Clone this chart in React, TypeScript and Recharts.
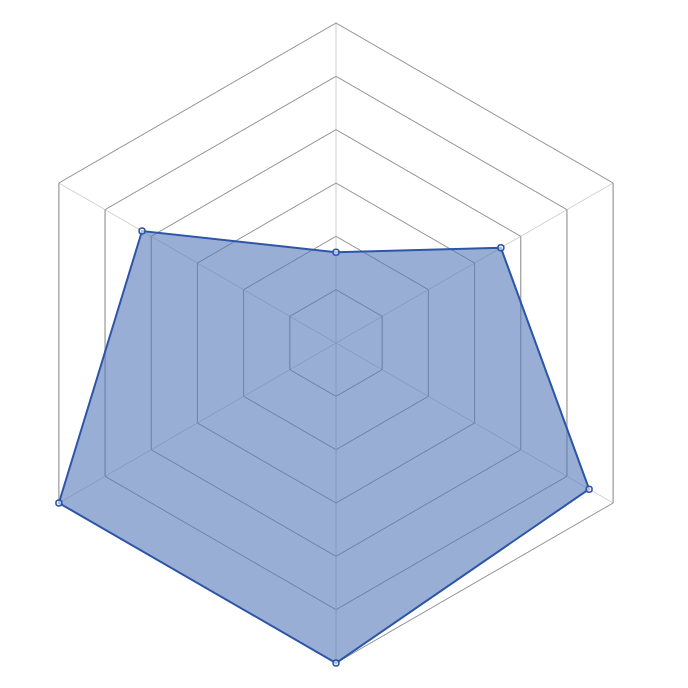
import { RadarChart, Radar, PolarGrid, PolarAngleAxis, PolarRadiusAxis } from "recharts";

const categories = ["A", "B", "C", "D", "E", "F"];
const values = [1.7, 3.57, 5.48, 6, 6, 4.2];

const data = categories.map((c, i) => ({ name: c, value: values[i] }));

export default function App() {
  return (
    <RadarChart
      width={672}
      height={680}
      data={data}
      cx={328}
      cy={335}
      outerRadius={320}
      margin={{ top: 0, right: 0, bottom: 0, left: 0 }}
    >
      <PolarGrid gridType="polygon" stroke="#d0d0d0" />
      <PolarGrid gridType="polygon" radialLines={false} stroke="#999" />
      <PolarAngleAxis dataKey="name" tick={false} axisLine={false} tickLine={false} />
      <PolarRadiusAxis domain={[0, 6]} tickCount={7} tick={false} axisLine={false} />
      <Radar
        dataKey="value"
        stroke="#2d55a8"
        strokeWidth={2}
        fill="#5478b8"
        fillOpacity={0.6}
        dot={{ r: 3, fill: "#fff", stroke: "#2d55a8", strokeWidth: 1.5 }}
        isAnimationActive={false}
      />
    </RadarChart>
  );
}
